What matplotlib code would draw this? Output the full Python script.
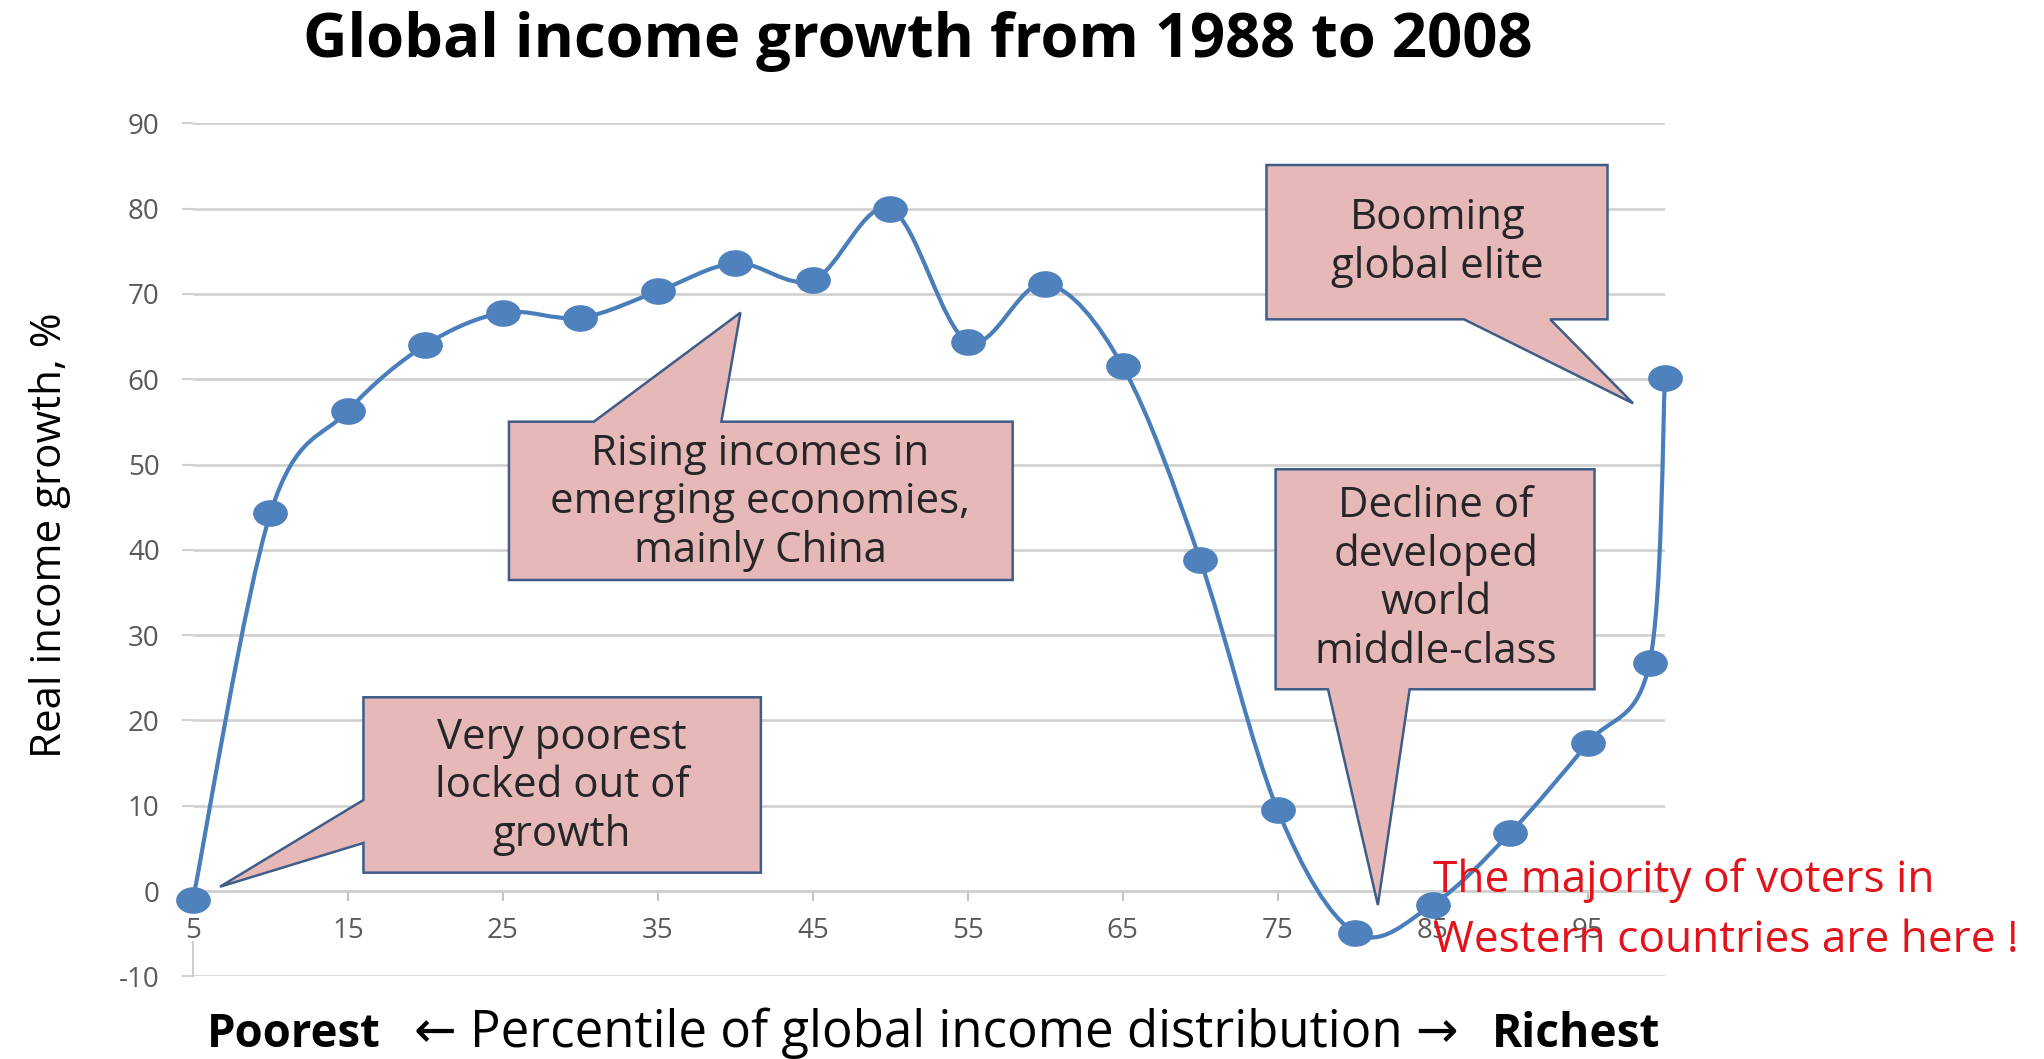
import numpy as np
import matplotlib
matplotlib.use("Agg")
import matplotlib.pyplot as plt
from matplotlib.path import Path
from matplotlib.patches import PathPatch, Polygon

# ---------------- data ----------------
percentile = [5, 10, 15, 20, 25, 30, 35, 40, 45, 50, 55, 60, 65, 70, 75, 80, 85, 90, 95, 99, 100]
growth = [-1.0, 44.3, 56.3, 64.0, 67.8, 67.2, 70.3, 73.6, 71.6, 80.0, 64.4, 71.2, 61.5,
          38.8, 9.5, -4.9, -1.6, 6.8, 17.3, 26.7, 60.1]
x_ticks = [5, 15, 25, 35, 45, 55, 65, 75, 85, 95]
y_ticks = [-10, 0, 10, 20, 30, 40, 50, 60, 70, 80, 90]

title = "Global income growth from 1988 to 2008"
ylabel = "Real income growth, %"
xlabel_left = "Poorest"
xlabel_mid = "\u2190 Percentile of global income distribution \u2192"
xlabel_right = "Richest"
note_lines = ["The majority of voters in", "Western countries are here !"]

callout_rising = ["Rising incomes in", "emerging economies,", "mainly China"]
callout_poorest = ["Very poorest", "locked out of", "growth"]
callout_booming = ["Booming", "global elite"]
callout_decline = ["Decline of", "developed", "world", "middle-class"]

# ---------------- style ----------------
plt.rcParams['font.family'] = ['Open Sans', 'DejaVu Sans']
plt.rcParams['axes.unicode_minus'] = False
W, H = 2044, 1059
LINE_C = '#4A7EBB'
MARK_C = '#4F81BD'
GRID_C = '#d0d0d0'
TICK_C = '#595959'
BOX_FC = '#E6B9B8'
BOX_EC = '#3E5D88'
TXT_C = '#262626'
RED = '#E3131B'

fig = plt.figure(figsize=(W / 100, H / 100), dpi=100)
fig.patch.set_facecolor('white')


def fx(px):
    return px / W


def fy(py):
    return 1 - py / H


ax = fig.add_axes([fx(193), fy(976.3), (1665 - 193) / W, (976.3 - 123.3) / H])
ax.set_xlim(5, 100)
ax.set_ylim(-10, 90)

# grid / axes
ax.set_yticks(y_ticks)
ax.set_xticks(x_ticks)
ax.yaxis.grid(True, color=GRID_C, lw=1.9)
ax.set_axisbelow(True)
for s in ['top', 'right']:
    ax.spines[s].set_visible(False)
ax.spines['bottom'].set_position(('data', 0))
ax.spines['bottom'].set_color(GRID_C)
ax.spines['bottom'].set_linewidth(1.9)
ax.spines['left'].set_bounds(-10, -6)
ax.spines['left'].set_color('#c8c8c8')
ax.spines['left'].set_linewidth(1.3)
ax.tick_params(axis='y', direction='out', length=8, width=1.5, color=GRID_C,
               pad=16, labelsize=20, labelcolor=TICK_C)
ax.tick_params(axis='x', direction='out', length=7, width=1.5, color='#c4c4c4',
               pad=12, labelsize=20, labelcolor=TICK_C)


# smoothed line (Excel-like Catmull-Rom Bezier through the data points)
def smooth_path(xs, ys):
    P = np.column_stack([xs, ys]).astype(float)
    n = len(P)
    verts = [P[0]]
    codes = [Path.MOVETO]
    for i in range(n - 1):
        p0 = P[i - 1] if i > 0 else P[i]
        p1, p2 = P[i], P[i + 1]
        p3 = P[i + 2] if i + 2 < n else P[i + 1]
        verts += [p1 + (p2 - p0) / 6, p2 - (p3 - p1) / 6, p2]
        codes += [Path.CURVE4] * 3
    return Path(verts, codes)


ax.add_patch(PathPatch(smooth_path(percentile, growth), fill=False, edgecolor=LINE_C,
                       lw=3.0, transform=ax.transData, zorder=3, clip_on=False,
                       capstyle='round', joinstyle='round'))

theta = np.linspace(0, 2 * np.pi, 60)
ellipse = Path(np.column_stack([1.32 * np.cos(theta), np.sin(theta)]), closed=True)
ax.plot(percentile, growth, ls='none', marker=ellipse, ms=24, color=MARK_C,
        mec=MARK_C, zorder=3.5, clip_on=False)

# ---------------- callouts ----------------
callouts = [
    (callout_rising, (41.6, 45.6),
     [(25.39, 36.46), (57.90, 36.46), (57.90, 55.02), (39.10, 55.02), (40.33, 67.80),
      (30.87, 55.02), (25.39, 55.02)]),
    (callout_poorest, (28.8, 12.3),
     [(16.0, 2.15), (41.65, 2.15), (41.65, 22.71), (16.0, 22.71), (16.0, 10.67),
      (6.74, 0.5), (16.0, 5.63)]),
    (callout_booming, (85.3, 76.0),
     [(74.28, 67.02), (87.03, 67.02), (97.94, 57.17), (92.59, 67.02), (96.29, 67.02),
      (96.29, 85.11), (74.28, 85.11)]),
    (callout_decline, (85.2, 36.6),
     [(74.87, 23.65), (78.25, 23.65), (81.47, -1.64), (83.52, 23.65), (95.45, 23.65),
      (95.45, 49.44), (74.87, 49.44)]),
]

renderer = fig.canvas.get_renderer()


def width_of(t):
    return t.get_window_extent(renderer).width


def fit(t, target):
    for _ in range(2):
        t.set_fontsize(t.get_fontsize() * target / width_of(t))
    return t.get_fontsize()


# find common callout font size from measured widths
probe = fig.text(0, 0, "x", fontsize=20)
sizes = []
for s, w in [("Decline of", 197), ("middle-class", 245), ("Very poorest", 245),
             ("emerging economies,", 417), ("global elite", 215), ("Booming", 169)]:
    probe.set_text(s)
    probe.set_fontsize(20)
    sizes.append(fit(probe, w))
probe.remove()
CALL_FS = float(np.median(sizes))
LINE_STEP = 48.5 / 8.53  # line spacing in data units

for lines, (cx, cy), verts in callouts:
    ax.add_patch(Polygon(verts, closed=True, facecolor=BOX_FC, edgecolor=BOX_EC,
                         lw=1.8, zorder=4, clip_on=False, joinstyle='miter'))
    n = len(lines)
    for i, ln in enumerate(lines):
        yy = cy + (n - 1) / 2 * LINE_STEP - i * LINE_STEP
        ax.text(cx, yy, ln, ha='center', va='center', fontsize=CALL_FS,
                color=TXT_C, zorder=5)

# red note
t2 = ax.text(85.0, -7.12, note_lines[1], ha='left', va='baseline', color=RED,
             fontsize=28, zorder=6, clip_on=False)
fs_note = fit(t2, 586)
ax.text(85.0, -0.08, note_lines[0], ha='left', va='baseline', color=RED,
        fontsize=fs_note, zorder=6, clip_on=False)

# ---------------- titles / labels ----------------
tt = fig.text(fx(918), fy(56.7), title, ha='center', va='baseline',
              fontsize=40, fontweight='bold', color='black')
fit(tt, 1231)

yl = fig.text(fx(50), fy(535), ylabel, ha='center', va='center', rotation=90,
              fontsize=26, color='black')
fit_len = yl.get_window_extent(renderer).height
yl.set_fontsize(yl.get_fontsize() * 446 / fit_len)

xl1 = fig.text(fx(207), fy(1046.7), xlabel_left, ha='left', va='baseline',
               fontsize=26, fontweight='bold', color='black')
fit(xl1, 174)
xl2 = fig.text(fx(936), fy(1046.7), xlabel_mid, ha='center', va='baseline',
               fontsize=26, color='black')
fit(xl2, 1046)
xl3 = fig.text(fx(1660), fy(1046.7), xlabel_right, ha='right', va='baseline',
               fontsize=26, fontweight='bold', color='black')
fit(xl3, 168)

fig.savefig('out.png', dpi=100, facecolor='white')
